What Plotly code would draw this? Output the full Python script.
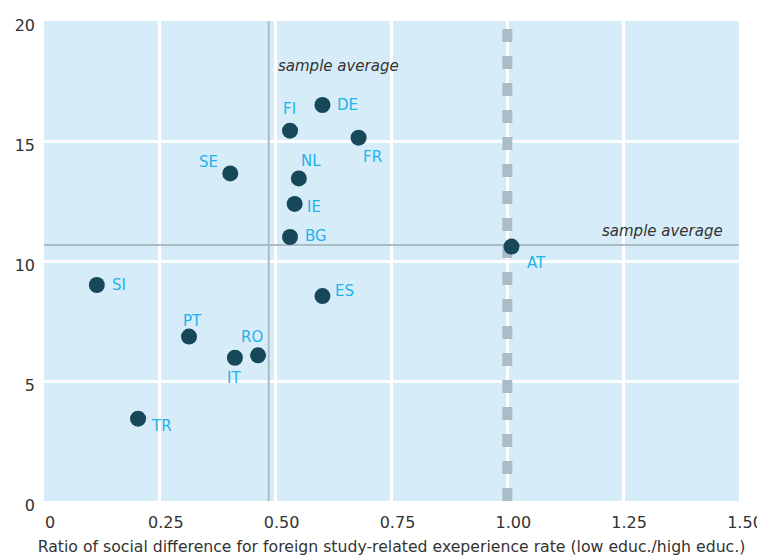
import plotly.graph_objects as go

# data
countries = ["DE", "FI", "FR", "SE", "NL", "IE", "BG", "AT", "SI", "ES", "PT", "IT", "RO", "TR"]
ratio = [0.601, 0.531, 0.679, 0.402, 0.550, 0.541, 0.531, 1.009, 0.114, 0.601, 0.313, 0.412, 0.462, 0.203]
rate = [16.5, 15.43, 15.14, 13.65, 13.44, 12.38, 11.0, 10.6, 9.0, 8.54, 6.85, 5.97, 6.07, 3.43]

avg_ratio = 0.485
avg_rate = 10.67
parity = 1.0

x_range = [0, 1.5]
y_range = [0, 20]
x_ticks = [0, 0.25, 0.5, 0.75, 1.0, 1.25, 1.5]
x_ticktext = ["0", "0.25", "0.50", "0.75", "1.00", "1.25", "1.50"]
y_ticks = [0, 5, 10, 15, 20]

# label offsets in pixels (dx, dy, anchor)
label_pos = {
    "DE": (13, 0, "left"), "FI": (-1, -22, "center"), "FR": (14, 19, "center"),
    "SE": (-22, -11, "center"), "NL": (12, -17, "center"), "IE": (19, 3, "center"),
    "BG": (13, -1, "left"), "AT": (25, 16, "center"), "SI": (13, 0, "left"),
    "ES": (11, -5, "left"), "PT": (3, -16, "center"), "IT": (-1, 20, "center"),
    "RO": (-6, -18, "center"), "TR": (23, 7, "center"),
}

FONT = "DejaVu Sans"
DOT = "#17485a"
LABEL = "#22b2ec"
REF = "#aabcc6"

fig = go.Figure()
# reference lines (as traces so they sit above the grid, below the dots)
fig.add_trace(go.Scatter(x=[avg_ratio, avg_ratio], y=y_range, mode="lines",
                         line=dict(color=REF, width=2), hoverinfo="skip"))
fig.add_trace(go.Scatter(x=x_range, y=[avg_rate, avg_rate], mode="lines",
                         line=dict(color=REF, width=2), hoverinfo="skip"))
fig.add_trace(go.Scatter(x=[parity, parity], y=y_range, mode="lines",
                         line=dict(color=REF, width=10, dash="13px,14px"), hoverinfo="skip"))

fig.add_trace(go.Scatter(
    x=ratio, y=rate, mode="markers",
    marker=dict(size=16, color=DOT),
    hoverinfo="text", text=countries,
))

for c, xv, yv in zip(countries, ratio, rate):
    dx, dy, anchor = label_pos[c]
    fig.add_annotation(
        x=xv, y=yv, text=c, showarrow=False, xshift=dx, yshift=-dy,
        xanchor=anchor, yanchor="middle",
        font=dict(family=FONT, size=15, color=LABEL),
    )

fig.add_annotation(x=avg_ratio, y=1, xref="x", yref="paper", yshift=-34, xshift=7,
                   text="<i>sample average</i>", showarrow=False, xanchor="left",
                   font=dict(family=FONT, size=15, color="#333333"))
fig.add_annotation(x=1, y=avg_rate, xref="paper", yref="y", yshift=14, xshift=-14,
                   text="<i>sample average</i>", showarrow=False, xanchor="right",
                   font=dict(family=FONT, size=15, color="#333333"))

# the page body adds an 8px margin, so the figure is 8px smaller
fig.update_layout(
    width=757, height=548,
    margin=dict(l=36, r=26, t=13, b=55),
    paper_bgcolor="white", plot_bgcolor="#d6edf9",
    font=dict(family=FONT, size=15, color="#333333"),
    showlegend=False,
)
fig.update_xaxes(
    range=x_range, tickvals=x_ticks, ticktext=x_ticktext, automargin=False,
    showgrid=True, gridcolor="white", gridwidth=3, zeroline=False,
    showline=False, ticks="", ticklabelstandoff=10, ticklabelshift=6,
    tickfont=dict(size=16),
    title=dict(text="Ratio of social difference for foreign study-related exeperience rate (low educ./high educ.)",
               font=dict(size=15.7, color="#333333"), standoff=17),
)
fig.update_yaxes(
    range=y_range, tickvals=y_ticks, automargin=False,
    showgrid=True, gridcolor="white", gridwidth=3, zeroline=False,
    showline=False, ticks="", ticklabelstandoff=8, ticklabelshift=4,
    tickfont=dict(size=16),
)

fig.write_html("out.html")
